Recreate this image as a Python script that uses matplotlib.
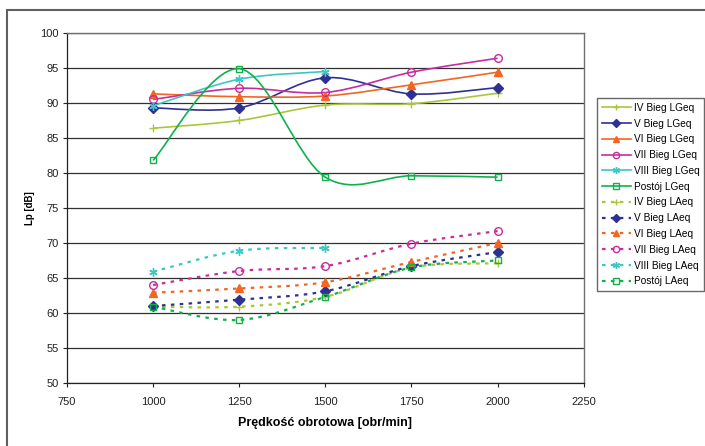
import numpy as np
from matplotlib import pyplot as plt
from matplotlib.path import Path
from matplotlib.patches import PathPatch, Rectangle
from matplotlib.lines import Line2D

plt.rcParams['font.family'] = ['Liberation Sans', 'DejaVu Sans']

# Rotational speed [obr/min]
speed = [1000, 1250, 1500, 1750, 2000]
speed_viii = [1000, 1250, 1500]

# LGeq levels [dB]
iv_lgeq = [86.4, 87.5, 89.7, 89.9, 91.4]
v_lgeq = [89.3, 89.3, 93.6, 91.3, 92.2]
vi_lgeq = [91.3, 90.9, 91.0, 92.6, 94.4]
vii_lgeq = [90.5, 92.1, 91.5, 94.4, 96.4]
viii_lgeq = [89.6, 93.4, 94.5]
postoj_lgeq = [81.8, 94.9, 79.4, 79.6, 79.4]

# LAeq levels [dB]
iv_laeq = [60.9, 60.9, 62.3, 66.5, 67.1]
v_laeq = [61.0, 61.9, 63.1, 66.7, 68.7]
vi_laeq = [62.9, 63.5, 64.4, 67.3, 70.0]
vii_laeq = [64.0, 66.0, 66.7, 69.9, 71.7]
viii_laeq = [65.9, 68.9, 69.3]
postoj_laeq = [60.9, 59.0, 62.3, 66.5, 67.5]

labels = ['IV Bieg LGeq', 'V Bieg LGeq', 'VI Bieg LGeq', 'VII Bieg LGeq',
          'VIII Bieg LGeq', 'Postój LGeq',
          'IV Bieg LAeq', 'V Bieg LAeq', 'VI Bieg LAeq', 'VII Bieg LAeq',
          'VIII Bieg LAeq', 'Postój LAeq']

colors = ['#a9c73b', '#2e3192', '#f26522', '#c72d9c', '#3cc6c4', '#12b04c']
markers = ['+', 'D', '^', 'o', (6, 2, 0), 's']
msizes = [6, 5, 6, 5.5, 6, 5]
filled = [True, True, True, False, True, False]


def smooth_path(xs, ys):
    """Excel-like smoothed line: Catmull-Rom curve through the points as cubic Bezier."""
    pts = np.column_stack([xs, ys]).astype(float)
    n = len(pts)
    verts = [pts[0]]
    codes = [Path.MOVETO]
    for i in range(n - 1):
        p0 = pts[i - 1] if i > 0 else pts[i]
        p1 = pts[i]
        p2 = pts[i + 1]
        p3 = pts[i + 2] if i + 2 < n else pts[i + 1]
        verts += [p1 + (p2 - p0) / 6, p2 - (p3 - p1) / 6, p2]
        codes += [Path.CURVE4] * 3
    return Path(verts, codes)


fig = plt.figure(figsize=(7.05, 4.46), dpi=100)
ax = fig.add_axes([0.095, 0.1413, 0.733, 0.7847])

series = [
    (speed, iv_lgeq), (speed, v_lgeq), (speed, vi_lgeq), (speed, vii_lgeq),
    (speed_viii, viii_lgeq), (speed, postoj_lgeq),
    (speed, iv_laeq), (speed, v_laeq), (speed, vi_laeq), (speed, vii_laeq),
    (speed_viii, viii_laeq), (speed, postoj_laeq),
]

dash = (0, (1.6, 2.4))
handles = []
for k, (xs, ys) in enumerate(series):
    c = colors[k % 6]
    m = markers[k % 6]
    ms = msizes[k % 6]
    mfc = c if filled[k % 6] else 'none'
    solid = k < 6
    ls = '-' if solid else dash
    lw = 1.2 if solid else 1.6
    ax.add_patch(PathPatch(smooth_path(xs, ys), fill=False, edgecolor=c,
                           lw=lw, linestyle=ls, zorder=3,
                           capstyle='butt'))
    ax.plot(xs, ys, linestyle='none', marker=m, ms=ms, mfc=mfc, mec=c,
            mew=1.0, zorder=4)
    handles.append(Line2D([], [], color=c, lw=lw, linestyle=ls, marker=m,
                          ms=ms - 1, mfc=mfc, mec=c, mew=1.0))

ax.set_xlim(750, 2250)
ax.set_ylim(50, 100)
ax.set_xticks(np.arange(750, 2251, 250))
ax.set_yticks(np.arange(50, 101, 5))
ax.yaxis.grid(True, color='#303030', lw=0.9)
ax.set_axisbelow(True)
ax.tick_params(labelsize=8, length=3, width=0.8, colors='#222222', pad=3)
ax.tick_params(axis='x', pad=7)
for s in ['left', 'bottom']:
    ax.spines[s].set_color('#222222')
    ax.spines[s].set_linewidth(0.9)
for s in ['top', 'right']:
    ax.spines[s].set_color('#707070')
    ax.spines[s].set_linewidth(1.0)

ax.set_xlabel('Prędkość obrotowa [obr/min]', fontsize=9, fontweight='bold', labelpad=7)
ax.set_ylabel('Lp [dB]', fontsize=7, fontweight='bold', labelpad=4)

leg = fig.legend(handles, labels, loc='upper left', bbox_to_anchor=(0.847, 0.781),
                 fontsize=7.3, frameon=True, fancybox=False, borderpad=0.5,
                 labelspacing=0.57, handlelength=2.8, handletextpad=0.3,
                 borderaxespad=0)
leg.get_frame().set_edgecolor('#444444')
leg.get_frame().set_linewidth(1.0)

# outer chart frame
fig.patches.append(Rectangle((7 / 705, -0.1), 1.2, 0.1 + 1 - 10 / 446,
                             transform=fig.transFigure, fill=False,
                             edgecolor='#606060', lw=1.5))

fig.savefig('out.png', dpi=100)
